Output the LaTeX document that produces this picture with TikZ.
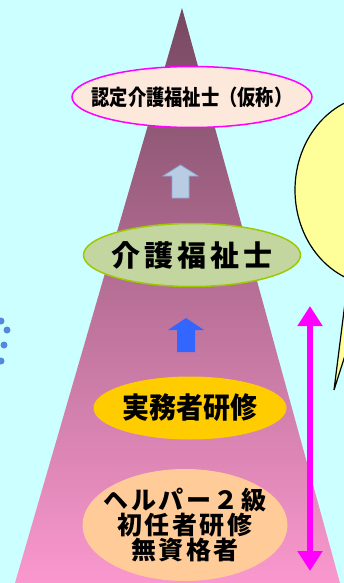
\documentclass[tikz,border=0pt]{standalone}
\usepackage{fontspec}
\usetikzlibrary{shapes.geometric, shapes.callouts, arrows.meta}
\newfontfamily\jp{Noto Sans CJK JP}[BoldFont={* Black}]
\definecolor{bgcyan}{RGB}{204, 255, 255}
\definecolor{towertop}{RGB}{118, 72, 96}
\definecolor{towerbot}{RGB}{250, 152, 206}
\definecolor{certfill}{RGB}{253, 232, 220}
\definecolor{pinkline}{RGB}{255, 0, 255}
\definecolor{cwfill}{RGB}{196, 214, 160}
\definecolor{cwline}{RGB}{160, 200, 0}
\definecolor{pracfill}{RGB}{255, 204, 0}
\definecolor{entryfill}{RGB}{255, 204, 153}
\definecolor{paleup}{RGB}{184, 204, 228}
\definecolor{palelin}{RGB}{140, 170, 210}
\definecolor{blueup}{RGB}{51, 102, 255}
\definecolor{dotblue}{RGB}{85, 136, 221}
\definecolor{notefill}{RGB}{255, 255, 153}
\begin{document}
\begin{tikzpicture}[x=1pt, y=-1pt,
    stage/.style={ellipse, inner sep=-30pt, text=black, font=\jp\bfseries},
    rangearrow/.style={draw=pinkline, line width=6pt,
      {Triangle[width=24pt,length=20pt]}-{Triangle[width=24pt,length=20pt]}}]
  \useasboundingbox (0,0) rectangle (344,583);
  \clip (0,0) rectangle (344,583);
  \fill[bgcyan] (0,0) rectangle (344,583);
  % tower
  \shade[top color=towertop, bottom color=towerbot] (182,8) -- (340,583) -- (15,583) -- cycle;
  % dots on the left edge
  \fill[dotblue] (1,321) circle (3.5);
  \fill[dotblue] (7,330) circle (3.5);
  \fill[dotblue] (4,345) circle (3.5);
  \fill[dotblue] (1,361) circle (3.5);
  % note on the right
  \node[ellipse callout, draw=black, line width=1.2pt, fill=notefill,
        minimum width=166pt, minimum height=190pt,
        callout absolute pointer={(334,390)}, callout pointer arc=14] (note) at (378,190) {};
  % stages
  \node[stage, draw=pinkline, line width=1.5pt, fill=certfill,
        minimum width=240pt, minimum height=61pt,
        font=\jp\bfseries\addfontfeatures{FakeStretch=0.85}\fontsize{21.5}{21.5}\selectfont] (certcw) at (192,97) {認定介護福祉士（仮称）};
  \node[stage, draw=cwline, line width=1.5pt, fill=cwfill,
        minimum width=217pt, minimum height=63pt,
        font=\jp\bfseries\addfontfeatures{LetterSpace=14}\fontsize{29}{29}\selectfont] (cw) at (192,255) {介護福祉士};
  \node[stage, fill=pracfill, minimum width=193pt, minimum height=63pt,
        font=\jp\bfseries\addfontfeatures{FakeStretch=0.93}\fontsize{29}{29}\selectfont] (practical) at (190,408) {実務者研修};
  \node[stage, fill=entryfill, minimum width=205pt, minimum height=112pt, align=center,
        font=\jp\bfseries\addfontfeatures{LetterSpace=10}\fontsize{25}{25}\selectfont] (entry) at (185,525)
        {ヘルパー２級\\初任者研修\\無資格者};
  % step arrows
  \filldraw[fill=paleup, draw=palelin, line width=0.8pt]
    (172,198) -- (172,176) -- (163,176) -- (180.5,165) -- (198,176) -- (189,176) -- (189,198) -- cycle;
  \fill[blueup] (177,352) -- (177,330) -- (168,330) -- (186,318) -- (204,330) -- (195,330) -- (195,352) -- cycle;
  % range
  \coordinate (rngtop) at (310,306);
  \coordinate (rngbot) at (310,571);
  \draw[rangearrow] (rngtop) -- (rngbot);
\end{tikzpicture}
\end{document}
